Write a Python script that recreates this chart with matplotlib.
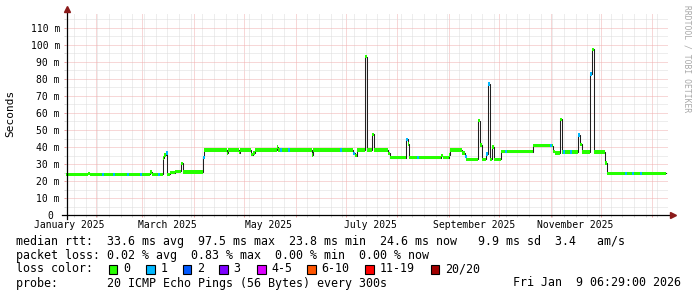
import numpy as np
import matplotlib
matplotlib.use("Agg")
import matplotlib.pyplot as plt
from matplotlib.patches import Rectangle
from matplotlib.lines import Line2D

W, H, DPI = 697, 297, 100
START = np.datetime64("2025-01-14T06:29")
SPAN_DAYS = 360

# median rtt, stepped: day since START where a level begins, and its value (ms)
step_day = [0.0, 13.2, 14.4, 50.4, 51.6, 58.2, 58.8, 60.0, 60.6, 62.4,
            65.4, 69.0, 70.2, 82.2, 82.8, 96.6, 97.2, 103.8, 104.4, 111.0,
            112.2, 113.4, 126.6, 127.2, 147.6, 148.2, 172.2, 173.4, 174.6, 179.4,
            180.6, 183.6, 184.5, 193.2, 194.4, 204.0, 205.2, 205.8, 225.0, 226.2,
            229.8, 230.4, 237.6, 239.4, 240.0, 247.2, 248.4, 249.6, 252.0, 253.2,
            254.4, 255.6, 256.5, 261.0, 280.2, 292.2, 293.4, 296.4, 297.6, 307.2,
            308.4, 309.6, 314.4, 315.6, 316.8, 323.4, 324.6]
step_ms = [23.9, 24.4, 23.9, 25.3, 23.9, 33.5, 35.2, 36.5, 23.9, 24.9,
           25.6, 30.4, 25.3, 34.0, 38.2, 36.3, 38.2, 36.7, 38.2, 35.5,
           36.5, 38.2, 40.0, 38.2, 35.3, 38.2, 36.3, 35.0, 38.2, 93.1,
           38.2, 47.5, 38.2, 36.3, 33.8, 44.5, 41.8, 33.8, 35.0, 33.8,
           35.3, 38.2, 36.5, 34.3, 32.7, 55.5, 41.2, 32.7, 36.0, 77.0,
           32.7, 40.0, 32.7, 37.3, 40.8, 37.2, 36.4, 56.3, 37.0, 47.0,
           41.5, 37.0, 83.0, 97.5, 37.0, 30.5, 24.5]

# days where 1 of 20 pings was lost
loss1_day = [21.6, 28.2, 36.6, 44.4, 55.2, 60.0, 82.2, 128.4, 133.2, 164.4,
             172.2, 204.0, 210.6, 239.4, 252.0, 253.2, 263.4, 290.4, 298.2,
             302.4, 307.2, 314.4, 335.4, 339.6, 344.4]

loss_labels = ["0", "1", "2", "3", "4-5", "6-10", "11-19", "20/20"]
loss_colors = ["#26ff00", "#00b8ff", "#0059ff", "#7e00ff", "#dd00ff",
               "#ff5500", "#ff0000", "#a10000"]

month_labels = ["January 2025", "March 2025", "May 2025", "July 2025",
                "September 2025", "November 2025"]

legend_rows = [
    "median rtt:  33.6 ms avg  97.5 ms max  23.8 ms min  24.6 ms now   9.9 ms sd  3.4   am/s",
    "packet loss: 0.02 % avg  0.83 % max  0.00 % min  0.00 % now",
]
probe_text = "probe:       20 ICMP Echo Pings (56 Bytes) every 300s"
stamp_text = "Fri Jan  9 06:29:00 2026"

MONO = "DejaVu Sans Mono"
PX_DAY = 600 / SPAN_DAYS
PX_MS = 1.7


def fx(x):
    return x / W


def fy(y):
    return 1 - y / H


def days_since_start(t):
    return (t.astype("datetime64[m]") - START) / np.timedelta64(1, "D")


fig = plt.figure(figsize=(W / DPI, H / DPI), dpi=DPI)
ax = fig.add_axes([fx(66), fy(215), (668 - 66) / W, (215 - 13) / H])
ax.set_xlim(0, (668 - 66) / PX_DAY)
ax.set_ylim(0, (215 - 13) / PX_MS)
for s in ax.spines.values():
    s.set_visible(False)
ax.set_axisbelow(True)

# grid: red majors, grey minors, dotted
dots = (0, (1, 1))
months = np.arange("2025-02", "2026-02", dtype="datetime64[M]")
sundays = np.arange(np.datetime64("2025-01-19"), np.datetime64("2026-01-10"),
                    np.timedelta64(7, "D"))
ax.set_xticks(days_since_start(months))
ax.set_xticks(days_since_start(sundays), minor=True)
ax.set_xticklabels([])
ax.set_yticks(np.arange(0, 111, 10))
ax.set_yticks(np.arange(5, 116, 10), minor=True)
ax.set_yticklabels(["0 "] + ["%d m" % v for v in range(10, 111, 10)],
                   family=MONO, fontsize=7)
ax.grid(True, which="minor", color="#dcdcdc", ls=dots, lw=0.72)
ax.grid(True, which="major", color="#f0b0b0", ls=dots, lw=0.72)
ax.tick_params(which="major", length=1.5, width=0.72, color="#eaa0a0", pad=2.9)
ax.tick_params(which="minor", length=1.5, width=0.72, color="#d4d4d4")

# median line and loss-coloured band
d = np.array(step_day + [SPAN_DAYS])
v = np.array(step_ms + [step_ms[-1]])
half = 1.0
ax.step(d, v, where="post", color="#202020", lw=0.75, zorder=3)
ax.fill_between(d, v - half, v + half, step="post", color=loss_colors[0],
                lw=0, zorder=4)
for day in loss1_day:
    i = np.searchsorted(step_day, day, side="right") - 1
    ax.fill_between([day, day + 1.0], step_ms[i] - half, step_ms[i] + half,
                    color=loss_colors[1], lw=0, zorder=5)

# month labels centred mid-month
lab_t = np.arange("2025-01", "2025-12", 2, dtype="datetime64[M]") + np.timedelta64(15, "D")
for t, lab in zip(days_since_start(lab_t.astype("datetime64[D]")), month_labels):
    fig.text(fx(66 + t * PX_DAY), fy(224.5), lab, ha="center", va="center",
             family=MONO, fontsize=7)

# axes with arrows
fig.add_artist(Line2D([fx(62), fx(671)], [fy(215), fy(215)], color="black", lw=0.9))
fig.add_artist(Line2D([fx(66.5), fx(66.5)], [fy(219), fy(11)], color="black", lw=0.9))
fig.add_artist(Line2D([fx(673)], [fy(215)], marker=">", ms=4.5, color="#8b1a1a", lw=0))
fig.add_artist(Line2D([fx(66.5)], [fy(9)], marker="^", ms=4.5, color="#8b1a1a", lw=0))

fig.text(fx(10.5), fy(113.5), "Seconds", rotation=90, ha="center", va="center",
         family=MONO, fontsize=8)
fig.text(fx(686.5), fy(5), "RRDTOOL / TOBI OETIKER", rotation=270, ha="center",
         va="top", family=MONO, fontsize=5.8, color="#a8a8a8")

# legend block
fs = 8.4
fig.text(fx(16), fy(241), legend_rows[0], ha="left", va="center", family=MONO, fontsize=fs)
fig.text(fx(16), fy(255), legend_rows[1], ha="left", va="center", family=MONO, fontsize=fs)
fig.text(fx(16), fy(269), "loss color:", ha="left", va="center", family=MONO, fontsize=fs)
box_x = [108.7, 146, 182.7, 219, 257, 307, 365, 430.7]
for bx, c, lab in zip(box_x, loss_colors, loss_labels):
    fig.add_artist(Rectangle((fx(bx), fy(273.5)), 8.5 / W, 9 / H,
                             facecolor=c, edgecolor="black", lw=0.8,
                             transform=fig.transFigure))
    fig.text(fx(bx + 14.5), fy(269), lab, ha="left", va="center",
             family=MONO, fontsize=fs)
fig.text(fx(16), fy(283), probe_text, ha="left", va="center", family=MONO, fontsize=fs)
fig.text(fx(681), fy(283), stamp_text, ha="right", va="center", family=MONO, fontsize=fs)

fig.savefig("out.png", dpi=DPI)
